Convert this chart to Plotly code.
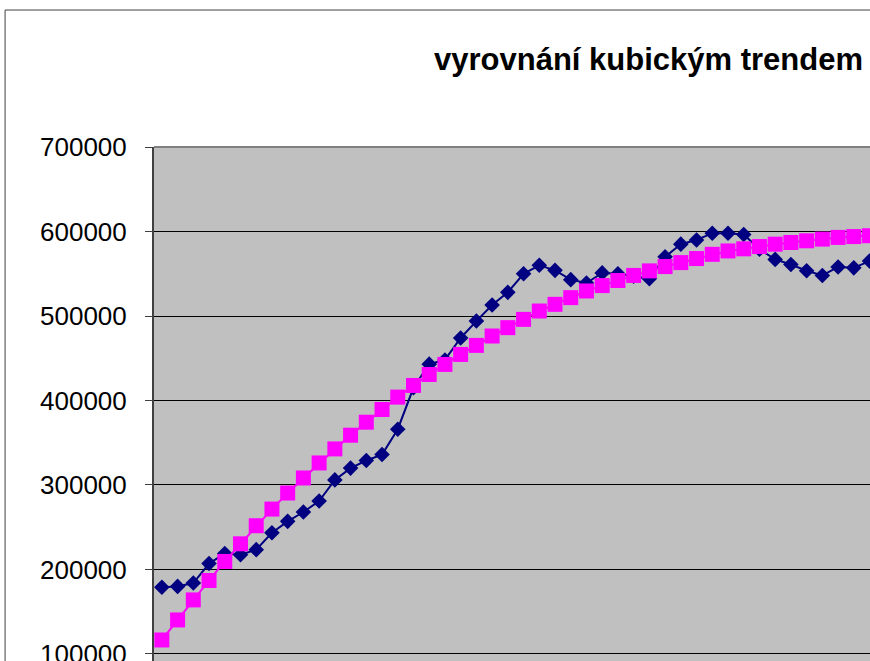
import plotly.graph_objects as go

# time index (categories)
periods = list(range(1, 47))

# observed series (navy diamonds)
observed = [179000, 180000, 184000, 207000, 219000, 217500, 223500, 243500, 257000, 268000,
            281000, 306000, 320000, 329000, 336000, 366000, 415000, 443000, 448000, 474000,
            494000, 513000, 528000, 550000, 560000, 554000, 543000, 539000, 551000, 550000,
            547000, 544000, 570000, 585000, 590000, 598000, 598000, 596500, 579000, 567000,
            561000, 553500, 548000, 558000, 557000, 565000]

# cubic trend (magenta squares)
trend = [116600, 140300, 164000, 187000, 209500, 230400, 251800, 271500, 290500, 308300,
         326100, 342700, 358900, 374300, 389300, 404000, 417800, 430800, 442700, 454500,
         465200, 476300, 486200, 496000, 505900, 513800, 521700, 529600, 536000, 542000,
         548000, 553400, 558500, 563200, 568000, 573000, 577000, 579500, 582200, 585000,
         587000, 589000, 591000, 593000, 594000, 595000]

y_ticks = [100000, 200000, 300000, 400000, 500000, 600000, 700000]

fig = go.Figure()
fig.add_trace(go.Scatter(
    x=periods, y=observed, mode="lines+markers",
    line=dict(color="#000080", width=2),
    marker=dict(symbol="diamond", size=12, color="#000080"),
    showlegend=False, hoverinfo="skip"))
fig.add_trace(go.Scatter(
    x=periods, y=trend, mode="lines+markers",
    line=dict(color="#FF00FF", width=2),
    marker=dict(symbol="square", size=15, color="#FF00FF"),
    showlegend=False, hoverinfo="skip"))

fig.update_layout(
    width=870, height=661,
    margin=dict(l=154, r=0, t=147, b=0, autoexpand=False),
    paper_bgcolor="white", plot_bgcolor="#C0C0C0",
    font=dict(family="Liberation Sans, Arial, sans-serif", color="black"),
    showlegend=False,
    xaxis=dict(range=[0.5, 46.03], showgrid=False, zeroline=False,
               showticklabels=False, ticks=""),
    yaxis=dict(range=[91700, 700000], tickvals=y_ticks,
               ticktext=[str(v) for v in y_ticks],
               showgrid=True, gridcolor="black", gridwidth=1,
               zeroline=False, showline=True, linecolor="#404040", linewidth=2,
               ticks="outside", ticklen=7, tickcolor="#404040", tickwidth=1,
               ticklabelstandoff=13, ticklabeloverflow="allow",
               tickfont=dict(size=26, family="Liberation Sans, Arial, sans-serif")),
    annotations=[dict(text="<b>vyrovnání kubickým trendem</b>", xref="paper", yref="paper",
                      x=0.691, y=1.171, xanchor="center", yanchor="middle",
                      showarrow=False,
                      font=dict(size=31, family="Liberation Sans, Arial, sans-serif", color="black"))],
    shapes=[
        dict(type="line", xref="paper", yref="paper", x0=0, x1=1.01, y0=1, y1=1,
             line=dict(color="#808080", width=2)),
        dict(type="rect", xref="paper", yref="paper", x0=-0.208, x1=1.2, y0=-0.2, y1=1.2665,
             line=dict(color="#404040", width=1), layer="above"),
    ],
)

fig.write_html("out.html", config={"displayModeBar": False},
               post_script="document.body.style.margin='0';document.body.style.overflow='hidden';")
